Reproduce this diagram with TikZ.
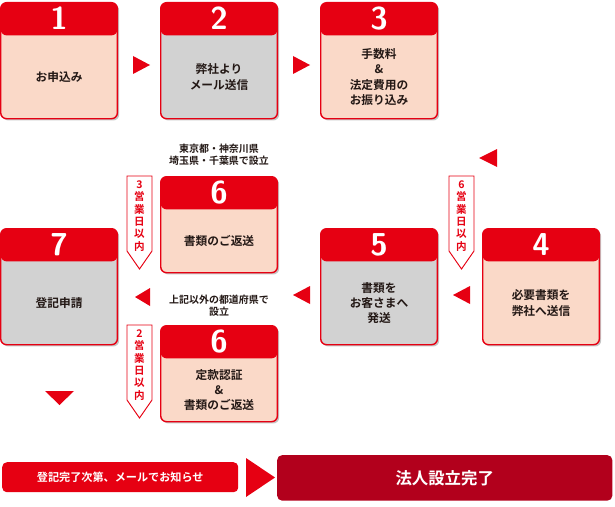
\documentclass[tikz,border=0pt]{standalone}
\usepackage{fontspec}
\newfontfamily\cjk{Noto Sans CJK JP}[BoldFont={Noto Sans CJK JP Bold}]
\usetikzlibrary{shadows}
\definecolor{cardred}{HTML}{E60012}
\definecolor{peach}{HTML}{FAD9C8}
\definecolor{cardgray}{HTML}{D2D2D2}
\definecolor{darkred}{HTML}{B2001C}
\definecolor{ink}{HTML}{231815}
\tikzset{
  card/.style={draw=cardred, line width=1.2pt, rounded corners=5pt, anchor=north west,
    inner sep=0pt, minimum width=3.5cm,
    drop shadow={shadow xshift=1.5pt, shadow yshift=-1.5pt, fill=black!45},
    path picture={\fill[cardred] (path picture bounding box.north west) rectangle
      ([yshift=-0.98cm]path picture bounding box.north east);}},
  cardnum/.style={text=white, font=\sffamily\bfseries\fontsize{27}{27}\selectfont},
  cardtext/.style={text=ink, align=center, font=\cjk\bfseries\fontsize{10}{13}\selectfont},
  tri/.style={fill=cardred},
  daytag/.style={draw=cardred, fill=white, line width=0.8pt},
  daytext/.style={text=cardred, align=center, font=\cjk\bfseries\fontsize{9}{10.5}\selectfont}
}
\begin{document}
\begin{tikzpicture}[x=0.03cm, y=-0.03cm]
  \useasboundingbox (0,0) rectangle (615,507);
  % the seven step cards
  \foreach \n/\x/\y/\h/\col/\num/\txt in {
      c1/0/2/116/peach/1/{お申込み},
      c2/160/2/116/cardgray/2/{弊社より\\メール送信},
      c3/320/2/116/peach/3/{手数料\\\&\\法定費用の\\お振り込み},
      c4/482/228/116/peach/4/{必要書類を\\弊社へ送信},
      c5/320/228/116/cardgray/5/{書類を\\お客さまへ\\発送},
      c6a/160/176/96/peach/6/{書類のご返送},
      c6b/160/325/96/peach/6/{定款認証\\\&\\書類のご返送},
      c7/0/228/116/cardgray/7/{登記申請}} {
    \node[card, fill=\col, minimum height=\h*0.03cm] (\n) at (\x,\y) {};
    \node[cardnum] (\n num) at ([yshift=-0.5cm]\n.north) {\num};
    \node[cardtext] (\n txt) at ([yshift=-0.49cm]\n.center) {\txt};
  }
  % arrows between the cards
  \fill[tri] (133,56) -- (150,65) -- (133,74) -- cycle;
  \fill[tri] (293,56) -- (310,65) -- (293,74) -- cycle;
  \fill[tri] (497,149) -- (479,158) -- (497,167) -- cycle;
  \fill[tri] (470,286) -- (453,295) -- (470,304) -- cycle;
  \fill[tri] (310,286) -- (293,295) -- (310,304) -- cycle;
  \fill[tri] (150,288) -- (135,297) -- (150,306) -- cycle;
  \fill[tri] (45,391) -- (74,391) -- (59.5,405) -- cycle;
  % captions
  \node[cardtext, font=\cjk\bfseries\fontsize{8.5}{10}\selectfont] (tokyo) at (219,155) {東京都・神奈川県\\埼玉県・千葉県で設立};
  \node[cardtext, font=\cjk\bfseries\fontsize{8.5}{10}\selectfont] (other) at (219,306) {上記以外の都道府県で\\設立};
  % business day tags
  \foreach \n/\x/\y/\d in {t3/127/176/3, t2/127/325/2, t6/449/176/6} {
    \draw[daytag] (\x,\y) -- (\x+25,\y) -- (\x+25,\y+75) -- (\x+12.5,\y+93) -- (\x,\y+75) -- cycle;
    \node[daytext] (\n) at (\x+12.5,\y+40) {\d\\営\\業\\日\\以\\内};
  }
  % completion bar
  \node[fill=cardred, rounded corners=4pt, anchor=north west, minimum width=7.08cm,
    minimum height=0.9cm, text=white, font=\cjk\bfseries\fontsize{9.5}{11}\selectfont] (mail) at (2,462) {登記完了次第、メールでお知らせ};
  \fill[tri] (246,458) -- (275,477.5) -- (246,497) -- cycle;
  \node[fill=darkred, rounded corners=4pt, anchor=north west, minimum width=10.05cm,
    minimum height=1.36cm, text=white, font=\cjk\bfseries\fontsize{14}{16}\selectfont] (done) at (277,455) {法人設立完了};
\end{tikzpicture}
\end{document}
